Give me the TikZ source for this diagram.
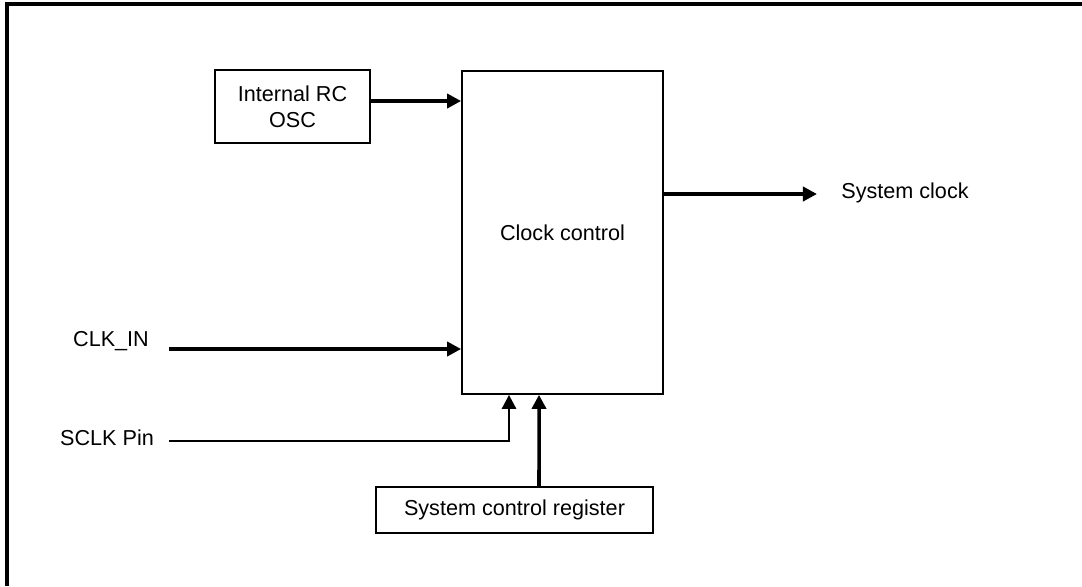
\documentclass[tikz,border=0pt]{standalone}
\usepackage{fontspec}
\setmainfont{Liberation Sans}
\usetikzlibrary{positioning,arrows.meta,calc}

\begin{document}
\begin{tikzpicture}[
    x=0.02cm, y=-0.02cm,
    font=\fontsize{12.3pt}{14.6pt}\selectfont,
    block/.style={draw, line width=1pt, inner sep=1pt, align=center},
    lbl/.style={inner sep=0pt},
    sig/.style={line width=2pt, -{Triangle[length=8pt,width=8pt]}},
  ]
  \useasboundingbox (0,0) rectangle (1082,586);
  % open frame round the drawing
  \draw[line width=2.2pt] (7,586) -- (7,4) -- (1082,4);

  % blocks
  \node[block, minimum width=3.1cm, minimum height=1.46cm] (rcosc) at (292.5,106.5) {Internal RC\\OSC};
  \node[block, minimum width=4.02cm, minimum height=6.46cm] (clkctrl) at (562.5,232.5) {Clock control};
  \node[block, minimum width=5.54cm, minimum height=0.92cm] (sysreg) at (514.5,510) {System control register};

  % pin and output labels
  \node[lbl] (clkin) at (111,341) {CLK\_IN};
  \node[lbl] (sclkpin) at (107,438) {SCLK Pin};
  \node[lbl, anchor=west] (sysclk) at (841,193) {System clock};

  \coordinate (clkinend) at (169,349);
  \coordinate (sclkend) at (169,441);

  % connectors
  \draw[sig] ([yshift=0.11cm]rcosc.east) coordinate (rcout) -- (rcout -| clkctrl.west);
  \draw[sig] (clkinend) -- (clkinend -| clkctrl.west);
  \draw[sig, line width=1.5pt] (sclkend) -| ([xshift=-1.07cm]clkctrl.south);
  \draw[sig] (sysreg.north -| {$(clkctrl.south)+(-23.5,0)$}) -- ([xshift=-0.47cm]clkctrl.south);
  \draw[sig] ([yshift=0.77cm]clkctrl.east) coordinate (ccout) -- ([xshift=-0.48cm]sysclk.west |- ccout);
\end{tikzpicture}
\end{document}
